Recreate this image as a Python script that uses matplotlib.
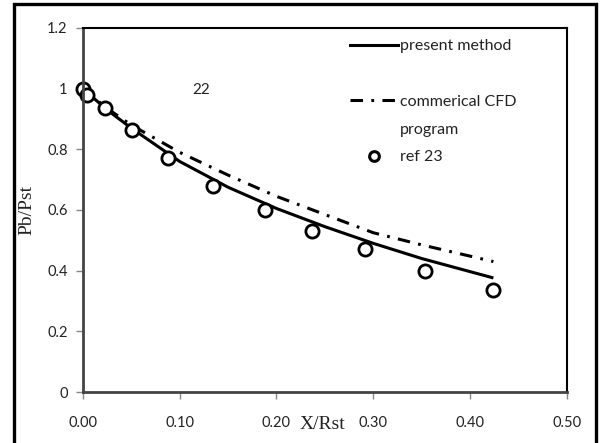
import matplotlib
matplotlib.use("Agg")
import matplotlib.pyplot as plt
from matplotlib.lines import Line2D
from matplotlib.patches import Rectangle
from matplotlib.ticker import FuncFormatter

# present method (solid curve)
x_present = [0.0, 0.025, 0.05, 0.10, 0.15, 0.20, 0.25, 0.30, 0.35, 0.424]
y_present = [1.0, 0.93, 0.87, 0.76, 0.675, 0.605, 0.545, 0.49, 0.44, 0.376]

# commerical CFD program (dash-dot curve)
x_cfd = [0.0, 0.025, 0.05, 0.10, 0.15, 0.20, 0.25, 0.30, 0.35, 0.424]
y_cfd = [1.0, 0.935, 0.88, 0.79, 0.715, 0.645, 0.585, 0.525, 0.485, 0.43]

# ref 23 (open circles)
x_ref = [0.0, 0.004, 0.023, 0.051, 0.088, 0.134, 0.188, 0.237, 0.291, 0.353, 0.424]
y_ref = [1.0, 0.98, 0.935, 0.862, 0.772, 0.68, 0.60, 0.53, 0.47, 0.40, 0.335]

xticks = [0.0, 0.1, 0.2, 0.3, 0.4, 0.5]
yticks = [0, 0.2, 0.4, 0.6, 0.8, 1.0, 1.2]

plt.rcParams['lines.scale_dashes'] = False
sans = ['Lato', 'DejaVu Sans']
serif = ['Liberation Serif', 'DejaVu Serif']

fig = plt.figure(figsize=(6, 4.43), dpi=100)
ax = fig.add_axes([0.138, 0.115, 0.807, 0.822])

dashdot = (0, (9, 6, 2, 6))
ax.plot(x_present, y_present, color='black', lw=2.2, solid_capstyle='butt')
ax.plot(x_cfd, y_cfd, color='black', lw=2.2, linestyle=dashdot)
ax.plot(x_ref, y_ref, 'o', mfc='white', mec='black', mew=2.0, ms=9.5, clip_on=False)

ax.text(0.122, 0.997, '22', fontsize=11, family=sans, ha='center', va='center', color='#222222')

ax.set_xlim(0, 0.5)
ax.set_ylim(0, 1.2)
ax.set_xticks(xticks)
ax.set_yticks(yticks)
ax.xaxis.set_major_formatter(FuncFormatter(lambda v, p: '%.2f' % v))
ax.yaxis.set_major_formatter(FuncFormatter(lambda v, p: '%g' % v))
for lab in ax.get_xticklabels() + ax.get_yticklabels():
    lab.set_family(sans)
ax.tick_params(direction='out', length=5, width=1, color='#888888', labelsize=10.5,
               labelcolor='#222222', pad=6)
ax.tick_params(axis='x', pad=12)

for s in ['left', 'bottom']:
    ax.spines[s].set_color('#444444')
    ax.spines[s].set_linewidth(2.0)
for s in ['top', 'right']:
    ax.spines[s].set_color('black')
    ax.spines[s].set_linewidth(1.5)

ax.set_xlabel('X/Rst', family=serif, fontsize=14, color='#222222')
ax.xaxis.set_label_coords(0.494, -0.066)
ax.set_ylabel('Pb/Pst', family=serif, fontsize=14, color='#222222')
ax.yaxis.set_label_coords(-0.098, 0.5)

blank = Line2D([], [], linestyle='none')
handles = [
    Line2D([], [], color='black', lw=2.2),
    blank,
    Line2D([], [], color='black', lw=2.2, linestyle=dashdot),
    blank,
    Line2D([], [], marker='o', linestyle='none', mfc='white', mec='black', mew=2.2, ms=7),
]
labels = ['present method', ' ', 'commerical CFD', 'program', 'ref 23']
leg = ax.legend(handles, labels, loc='upper left', bbox_to_anchor=(0.545, 0.978),
                frameon=False, prop={'family': sans, 'size': 11.5},
                handlelength=3.0, handletextpad=0.15, labelspacing=0.85,
                borderaxespad=0, borderpad=0.2)
for t in leg.get_texts():
    t.set_color('#222222')

fig.patches.append(Rectangle((0.023, -0.02), 0.97, 1.011, transform=fig.transFigure,
                             fill=False, edgecolor='black', lw=2.4))

fig.savefig('out.png', dpi=100)
